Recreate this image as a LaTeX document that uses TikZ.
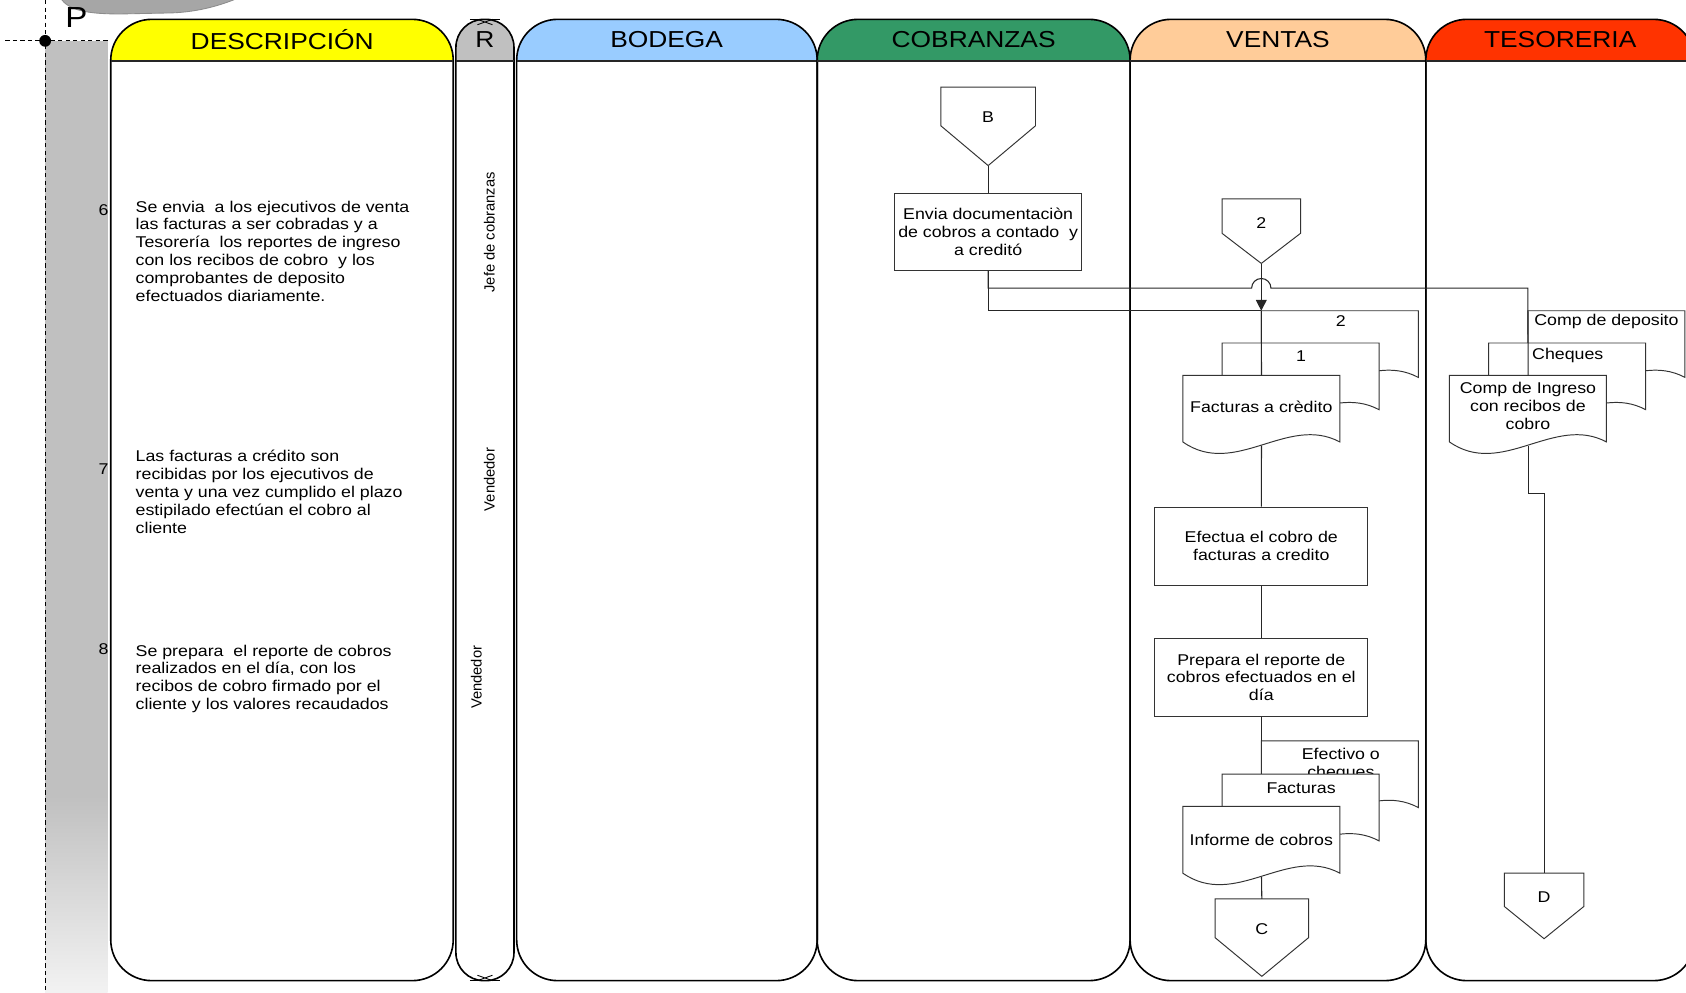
\documentclass[tikz,border=0pt]{standalone}
\usepackage{fontspec}
\setmainfont{Liberation Sans}[FakeStretch=1.14]
\newfontfamily\rotfont{Liberation Sans}
\usetikzlibrary{arrows.meta,calc}

\definecolor{cDesc}{HTML}{FFFF00}
\definecolor{cR}{HTML}{C0C0C0}
\definecolor{cBod}{HTML}{99CCFF}
\definecolor{cCob}{HTML}{339966}
\definecolor{cVen}{HTML}{FFCC99}
\definecolor{cTes}{HTML}{FF3300}
\definecolor{cCol}{HTML}{C0C0C0}
\definecolor{cTop}{HTML}{A6A6A6}

\newcommand{\hdrfnt}{\fontsize{21.5}{24}\selectfont}
\newcommand{\bfnt}{\fontsize{14.5}{16.6}\selectfont}
\newcommand{\rfnt}{\rotfont\fontsize{13.7}{16}\selectfont}
\newcommand{\pfnt}{\fontsize{27}{30}\selectfont}

\tikzset{
  laneline/.style={line width=1.5pt, draw=black},
  hdrline/.style={line width=1.7pt, draw=black!85},
  docline/.style={draw=black!80, line width=0.9pt, fill=white},
  conn/.style={draw=black!85, line width=1pt},
  procbox/.style={draw=black!80, line width=0.9pt, fill=white, inner sep=0pt, align=center, font=\bfnt},
  hdr/.style={font=\hdrfnt, inner sep=0pt},
  txt/.style={font=\bfnt, inner sep=0pt, align=center},
  desc/.style={font=\bfnt, inner sep=0pt, align=left, anchor=north west},
  num/.style={font=\bfnt, inner sep=0pt, anchor=east},
  rot/.style={font=\rfnt, inner sep=0pt, rotate=90},
  docbox/.style={draw=none, inner sep=0pt, minimum width=146pt, minimum height=65pt, anchor=north west},
  offbox/.style={draw=none, inner sep=0pt, anchor=north},
}

% lane: xL xR radius colour
\newcommand{\lanebox}[4]{%
  \begin{scope}
    \clip[rounded corners=#3pt] (#1,18) rectangle (#2,912);
    \fill[#4] (#1,18) rectangle (#2,57);
  \end{scope}
  \draw[laneline, rounded corners=#3pt] (#1,18) rectangle (#2,912);
  \draw[hdrline] (#1,57) -- (#2,57);
}
% document: name x0 y0
\newcommand{\docu}[3]{%
  \draw[docline] (#2,#3) -- ++(146,0) -- ++(0,62)
     .. controls +(-48.7,-26) and +(48.7,34) .. ({#2},{#3+62}) -- cycle;
  \node[docbox] (#1) at (#2,#3) {};
}
% off-page connector: name cx ytop w rectH totalH
\newcommand{\offpage}[6]{%
  \draw[docline] ({#2-#4/2},#3) -- ({#2+#4/2},#3) -- ({#2+#4/2},{#3+#5})
     -- ({#2},{#3+#6}) -- ({#2-#4/2},{#3+#5}) -- cycle;
  \node[offbox, minimum width=#4pt, minimum height=#6pt] (#1) at (#2,#3) {};
}

\begin{document}
\begin{tikzpicture}[x=1pt,y=-1pt]
\useasboundingbox (0,0) rectangle (1568,923);
\clip (0,0) rectangle (1568,923);

% top grey shape
\filldraw[fill=cTop, draw=black!45, line width=0.8pt] (56,-2) .. controls (64,10) and (82,13) .. (112,13)
   -- (160,12) .. controls (185,11) and (205,5) .. (222,-2) -- cycle;

% grey column
\fill[cCol] (42,38) rectangle (100,740);
\shade[top color=cCol, bottom color=white!95!black] (42,740) rectangle (100,923);
\draw[dash pattern=on 4pt off 3pt, line width=1pt] (42,0) -- (42,923);
\draw[dash pattern=on 4pt off 3pt, line width=1pt] (5,38) -- (100,38);
\fill (42,38) circle[radius=5.5pt];
\node[font=\pfnt, inner sep=0pt] (P) at (71,16) {P};

% lanes
\lanebox{103}{421.5}{38}{cDesc}
\lanebox{424}{478}{26}{cR}
\lanebox{480.5}{760}{38}{cBod}
\lanebox{760}{1051}{38}{cCob}
\lanebox{1051}{1326}{38}{cVen}
\lanebox{1326}{1576}{38}{cTes}

\node[hdr] (hDesc) at (262.5,36.5) {DESCRIPCIÓN};
\node[hdr] (hR) at (451,36.5) {R};
\node[hdr] (hBod) at (620,36.5) {BODEGA};
\node[hdr] (hCob) at (905.5,36.5) {COBRANZAS};
\node[hdr] (hVen) at (1188.5,36.5) {VENTAS};
\node[hdr] (hTes) at (1451,36.5) {TESORERIA};

% R lane marks
\draw[line width=1pt] (437,18) -- (465,18);
\draw[line width=0.8pt] (444,18) -- (458,23) (458,18) -- (444,23);
\draw[line width=1pt] (437,912) -- (465,912);
\draw[line width=0.8pt] (444,912) -- (458,907) (458,912) -- (444,907);

% description
\node[num] (n6) at (101,195) {6};
\node[desc] (d6) at (126,186.5) {Se envia\ \ a los ejecutivos de venta\\las facturas a ser cobradas y a\\Tesorería\ \ los reportes de ingreso\\con los recibos de cobro\ \ y los\\comprobantes de deposito\\efectuados diariamente.};
\node[num] (n7) at (101,436) {7};
\node[desc] (d7) at (126,418.5) {Las facturas a crédito son\\recibidas por los ejecutivos de\\venta y una vez cumplido el plazo\\estipilado efectúan el cobro al\\cliente};
\node[num] (n8) at (101,604) {8};
\node[desc] (d8) at (126,599.5) {Se prepara\ \ el reporte de cobros\\realizados en el día, con los\\recibos de cobro firmado por el\\cliente y los valores recaudados};

% responsible
\node[rot] (r6) at (455,216) {Jefe de cobranzas};
\node[rot] (r7) at (455,446) {Vendedor};
\node[rot] (r8) at (443,630) {Vendedor};

% COBRANZAS
\offpage{B}{919}{81}{88}{36}{73}
\node[txt] (Bt) at (919,108.5) {B};
\node[procbox, minimum width=174pt, minimum height=72pt] (envia) at (919,215.5) {Envia documentaciòn\\de cobros a contado\ \ y\\a creditó};

% VENTAS
\offpage{two}{1173}{185}{73}{32}{60}
\node[txt] (twot) at (1173,207.5) {2};

\docu{dtwo}{1173}{289}
\node[txt] (dtwot) at (1247,299) {2};
\docu{done}{1136.5}{319}
\node[txt] (donet) at (1210,331) {1};
\docu{fac}{1100}{349}
\node[txt] (fact) at (1173,378) {Facturas a crèdito};

\node[procbox, minimum width=198pt, minimum height=73pt] (efec) at (1173,508) {Efectua el cobro de\\facturas a credito};
\node[procbox, minimum width=198pt, minimum height=73pt] (prep) at (1173,630) {Prepara el reporte de\\cobros efectuados en el\\día};

\docu{efe}{1173}{689}
\node[txt] (efet) at (1247,711) {Efectivo o\\cheques};
\docu{fct}{1136.5}{720}
\node[txt] (fctt) at (1210,733) {Facturas};
\docu{inf}{1100}{750}
\node[txt] (inft) at (1173,781) {Informe de cobros};

\offpage{C}{1173.5}{836}{87}{36}{72}
\node[txt] (Ct) at (1173.5,864.5) {C};

% TESORERIA
\docu{dep}{1421}{289}
\node[txt] (dept) at (1494,299) {Comp de deposito};
\docu{chq}{1384.5}{319}
\node[txt] (chqt) at (1458,331) {Cheques};
\docu{ing}{1348}{349}
\node[txt] (ingt) at (1421,377.5) {Comp de Ingreso\\con recibos de\\cobro};

\offpage{D}{1436}{812}{74}{31}{61}
\node[txt] (Dt) at (1436,834.5) {D};

% connectors
\coordinate (hop) at (1173,268);
\coordinate (jog) at (1436,459);
\draw[conn] (B.south) -- (envia.north);
\draw[conn] (envia.south) |- ([xshift=-9pt]hop) arc[start angle=180, end angle=0, radius=9pt] -| (dep.north west);
\draw[conn] (envia.south) |- (dtwo.north west);
\draw[conn, -{Triangle[width=10pt,length=10pt]}] (two.south) -- (dtwo.north west);
\draw[conn] (dtwo.north west) -- (fac.north);
\draw[conn] (fac.south) -- (efec.north);
\draw[conn] (efec.south) -- (prep.north);
\draw[conn] (prep.south) -- (efe.north west);
\draw[conn] (inf.south) -- (C.north);
\draw[conn] (dep.north west) -- (ing.north);
\draw[conn] (ing.south) |- (jog) -- (D.north);
\end{tikzpicture}
\end{document}
